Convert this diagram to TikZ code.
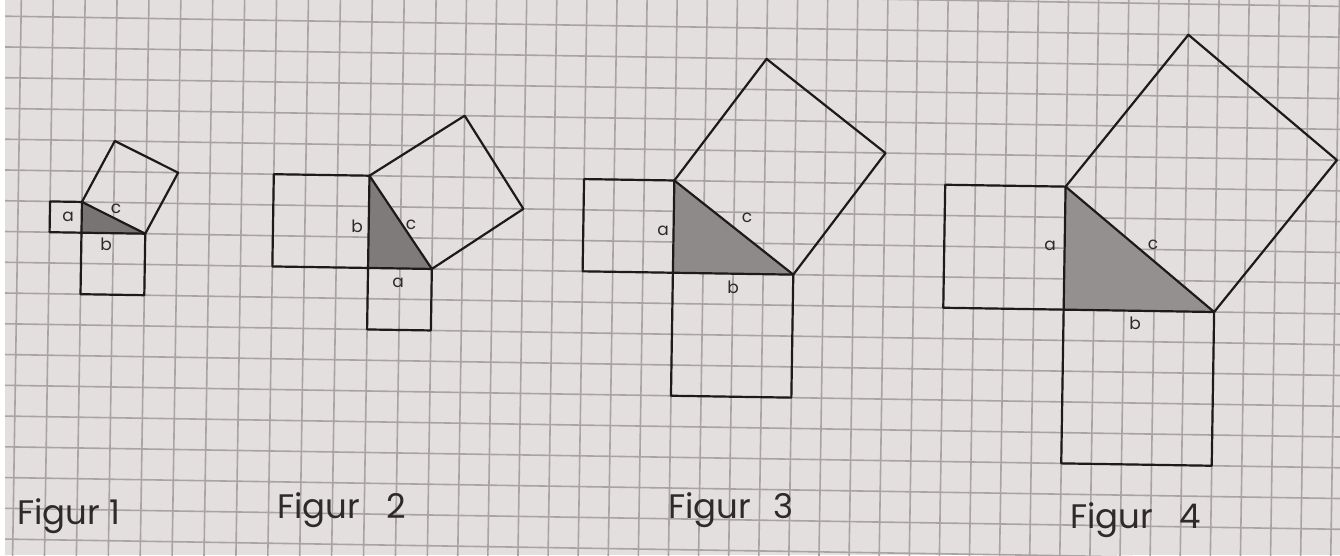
\documentclass[tikz,border=0pt]{standalone}
\usepackage{fontspec}
\setmainfont{Poppins}
\definecolor{paper}{HTML}{E4DFDF}
\definecolor{gridc}{HTML}{A9A3A4}
\definecolor{ink}{HTML}{1C1A1A}
\definecolor{penc}{HTML}{2E2A2A}
\definecolor{shadeA}{HTML}{787474}
\definecolor{shadeB}{HTML}{7F7B7B}
\definecolor{shadeC}{HTML}{8E8A8A}
\definecolor{shadeD}{HTML}{959090}
\pgfmathdeclarefunction{gx}{1}{\pgfmathparse{ifthenelse((#1)<=13,17+31.9*(#1),432+30.1*((#1)-13))}}
\pgfmathdeclarefunction{gy}{1}{\pgfmathparse{-4.1+30.755*(#1)}}
\tikzset{
  gridl/.style={draw=gridc,line width=1.6pt},
  figline/.style={draw=ink,line width=2.2pt,line join=round,line cap=round},
  lbl/.style={text=penc,font=\fontsize{17}{17}\selectfont,inner sep=0pt},
  caption/.style={text=penc,font=\fontsize{34}{34}\selectfont,inner sep=0pt,anchor=base west}
}
% #1 name, #2 k0, #3 j0 (right-angle corner), #4 vertical leg, #5 horizontal leg, #6 shade
\newcommand{\pythfig}[6]{%
  \coordinate (#1R) at ({gx(#2)},{gy(#3)});
  \coordinate (#1T) at ({gx(#2)},{gy(#3-#4)});
  \coordinate (#1H) at ({gx(#2+#5)},{gy(#3)});
  \coordinate (#1La) at ({gx(#2-#4)},{gy(#3-#4)});
  \coordinate (#1Lb) at ({gx(#2-#4)},{gy(#3)});
  \coordinate (#1Ba) at ({gx(#2)},{gy(#3+#5)});
  \coordinate (#1Bb) at ({gx(#2+#5)},{gy(#3+#5)});
  \coordinate (#1Ca) at ({gx(#2+#4)},{gy(#3-#4-#5)});
  \coordinate (#1Cb) at ({gx(#2+#4+#5)},{gy(#3-#5)});
  \fill[#6] (#1T) -- (#1R) -- (#1H) -- cycle;
  \draw[figline] (#1T) -- (#1La) -- (#1Lb) -- (#1R) -- cycle;
  \draw[figline] (#1R) -- (#1Ba) -- (#1Bb) -- (#1H) -- cycle;
  \draw[figline] (#1T) -- (#1Ca) -- (#1Cb) -- (#1H) -- cycle;
}
\begin{document}
\begin{tikzpicture}[x=1pt,y=-1pt]
\useasboundingbox (0,0) rectangle (1340,555);
\fill[paper] (0,0) rectangle (1340,555);
\begin{scope}
  \clip (0,0) rectangle (1340,555);
  \begin{scope}[rotate around={-0.9:(670,280)}]
    \foreach \k in {0,...,47}{%
      \pgfmathsetmacro\xx{gx(\k-2)}%
      \draw[gridl] (\xx,-70) -- (\xx,620);
    }
    \foreach \j in {0,...,22}{%
      \pgfmathsetmacro\yy{gy(\j-2)}%
      \draw[gridl] (-50,\yy) -- (1400,\yy);
    }
    \pythfig{fa}{2}{8}{1}{2}{shadeA}
    \pythfig{fb}{11}{9}{3}{2}{shadeB}
    \pythfig{fc}{21}{9}{3}{4}{shadeC}
    \pythfig{fd}{34}{10}{4}{5}{shadeD}
  \end{scope}
\end{scope}
\fill[white] (0,0) rectangle (5,555);
% labels
\node[lbl] (la1) at (68,217) {a};
\node[lbl] (lc1) at (116,209) {c};
\node[lbl] (lb1) at (106,244) {b};
\node[lbl] (lb2) at (357,226) {b};
\node[lbl] (lc2) at (411,225) {c};
\node[lbl] (la2) at (398,283) {a};
\node[lbl] (la3) at (663,231) {a};
\node[lbl] (lc3) at (747,218) {c};
\node[lbl] (lb3) at (733,287) {b};
\node[lbl] (la4) at (1050,246) {a};
\node[lbl] (lc4) at (1153,245) {c};
\node[lbl] (lb4) at (1135,323) {b};
% captions
\node[caption] (cap1) at (17,524) {Figur\hspace{9pt}1};
\node[caption] (cap2) at (277,518) {Figur\hspace{26pt}2};
\node[caption] (cap3) at (668,518) {Figur\hspace{22pt}3};
\node[caption] (cap4) at (1070,528) {Figur\hspace{26pt}4};
\end{tikzpicture}
\end{document}
